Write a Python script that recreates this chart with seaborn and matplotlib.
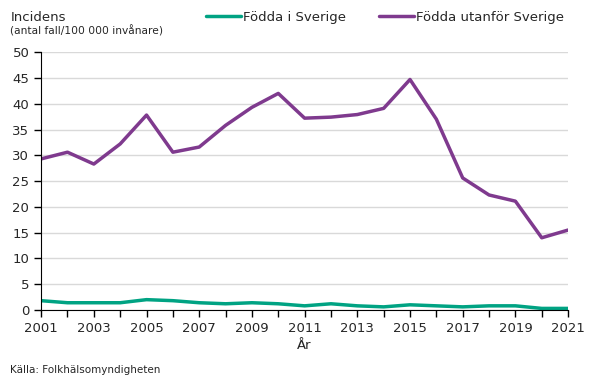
import numpy as np
import seaborn as sns
import matplotlib.pyplot as plt
import pandas as pd
from matplotlib.lines import Line2D

years = list(range(2001, 2022))
fodda_sverige = [1.8, 1.4, 1.4, 1.4, 2.0, 1.8, 1.4, 1.2, 1.4, 1.2, 0.8,
                 1.2, 0.8, 0.6, 1.0, 0.8, 0.6, 0.8, 0.8, 0.3, 0.3]
fodda_utanfor = [29.3, 30.6, 28.3, 32.2, 37.8, 30.6, 31.6, 35.8, 39.3, 42.0, 37.2,
                 37.4, 37.9, 39.1, 44.7, 37.0, 25.6, 22.3, 21.1, 14.0, 15.5]
series_names = ['Födda i Sverige', 'Födda utanför Sverige']

df = pd.DataFrame({'År': years,
                   series_names[0]: fodda_sverige,
                   series_names[1]: fodda_utanfor})
long = df.melt(id_vars='År', var_name='grupp', value_name='incidens')

sns.set_style('white')
plt.rcParams['font.family'] = ['DejaVu Sans']

fig = plt.figure(figsize=(6.05, 3.78), dpi=100)
ax = fig.add_axes([0.068, 0.18, 0.871, 0.682])

palette = {series_names[0]: '#00A383', series_names[1]: '#7F3A8E'}
sns.lineplot(data=long, x='År', y='incidens', hue='grupp', palette=palette,
             linewidth=2.5, ax=ax, legend=False)

ax.set_xlim(2001, 2021)
ax.set_ylim(0, 50)
ax.set_yticks(range(0, 51, 5))
ax.set_xticks(range(2001, 2022, 2))
ax.set_xticks(range(2001, 2022), minor=True)
ax.yaxis.grid(True, color='#d9d9d9', linewidth=1)
ax.set_axisbelow(True)
for s in ['top', 'right']:
    ax.spines[s].set_visible(False)
ax.spines['left'].set_color('black')
ax.spines['bottom'].set_color('black')
ax.tick_params(axis='both', which='both', direction='out', length=5, width=1,
               color='black', labelsize=9.5, bottom=True, left=True)
ax.set_xlabel('År', fontsize=9.5, labelpad=3)
ax.set_ylabel('')

fig.text(0.017, 0.955, 'Incidens', fontsize=9.5, va='center')
fig.text(0.017, 0.918, '(antal fall/100 000 invånare)', fontsize=7.7, va='center')
fig.text(0.017, 0.022, 'Källa: Folkhälsomyndigheten', fontsize=7.5, va='center')

handles = [Line2D([], [], color=palette[n], linewidth=2.5) for n in series_names]
fig.legend(handles, series_names, loc='center', bbox_to_anchor=(0.637, 0.955),
           ncol=2, frameon=False, fontsize=9.5, handlelength=2.6,
           handletextpad=0.2, columnspacing=2.5)

fig.savefig('out.png', dpi=100)
